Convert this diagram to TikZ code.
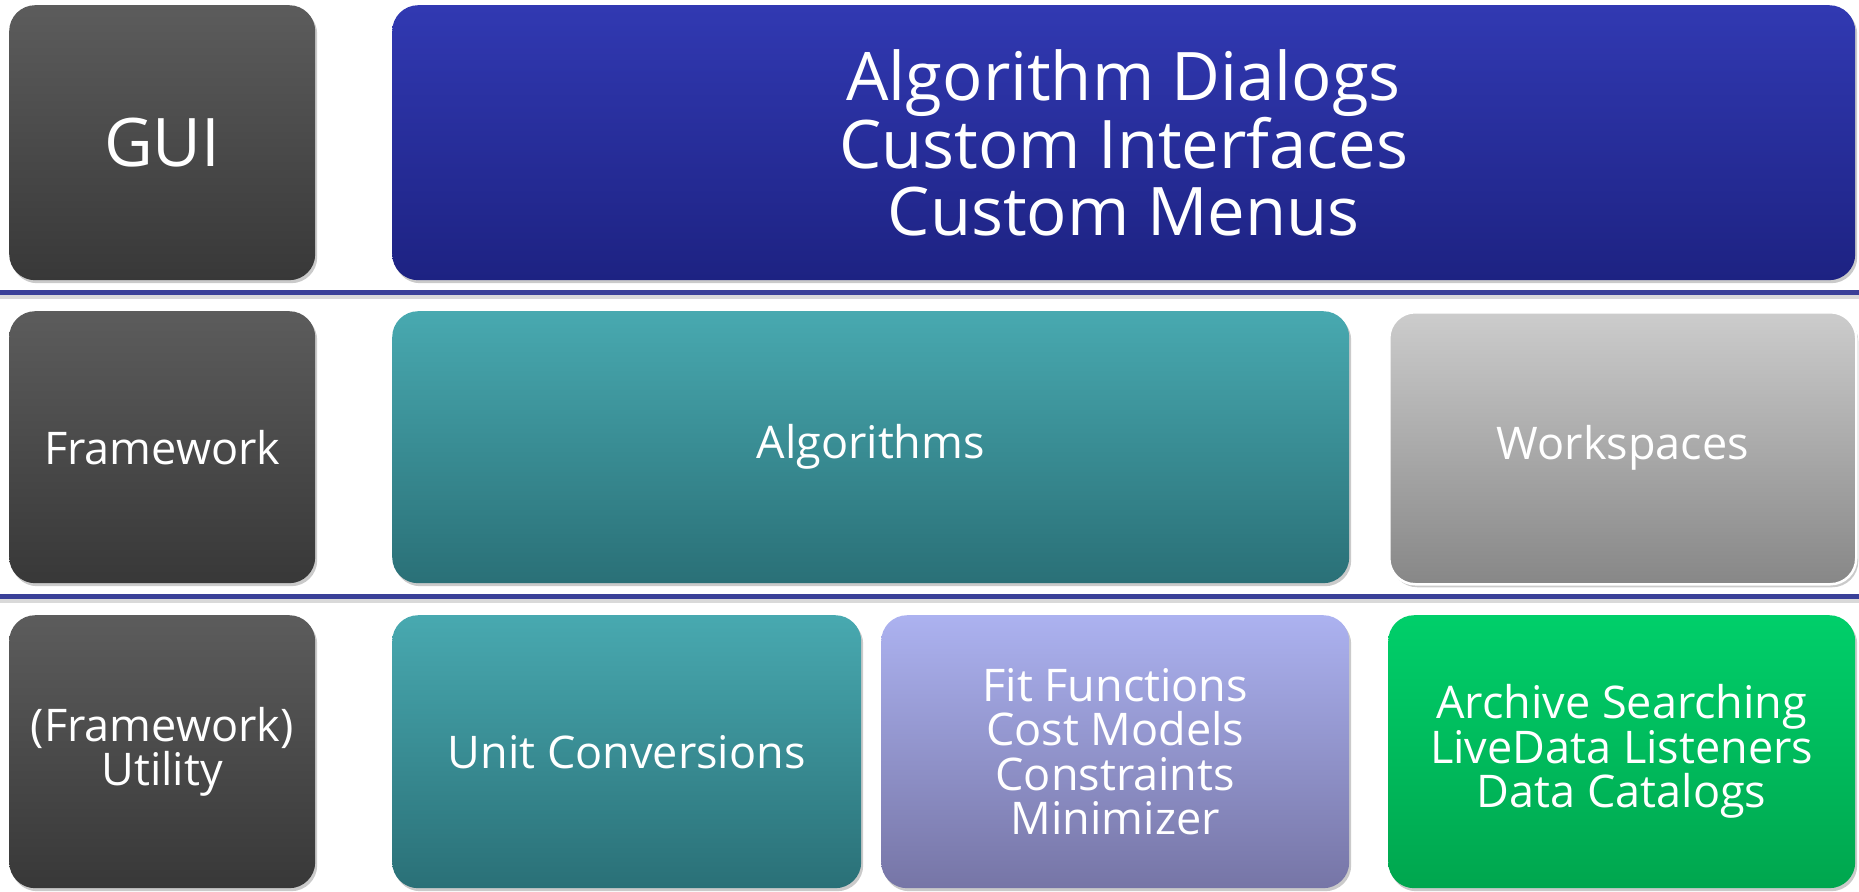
\documentclass[tikz,border=0pt]{standalone}
\usepackage{fontspec}
\setmainfont{Open Sans}
\usetikzlibrary{shadows}
\definecolor{gTop}{HTML}{5C5C5C}
\definecolor{gBot}{HTML}{383838}
\definecolor{bTop}{HTML}{3139B2}
\definecolor{bBot}{HTML}{1D2282}
\definecolor{tTop}{HTML}{48A9B0}
\definecolor{tBot}{HTML}{2A7077}
\definecolor{wTop}{HTML}{CCCCCC}
\definecolor{wBot}{HTML}{878787}
\definecolor{pTop}{HTML}{ACB2F0}
\definecolor{pBot}{HTML}{7675A6}
\definecolor{nTop}{HTML}{00CF6A}
\definecolor{nBot}{HTML}{00A64E}
\definecolor{sepBlue}{HTML}{3A4098}
\tikzset{
  layerbox/.style={rounded corners=26pt, anchor=north west, align=center,
    text=white, inner sep=0pt,
    drop shadow={shadow xshift=2pt, shadow yshift=-3pt, opacity=0.35, fill=black!60}},
  bigtext/.style={font=\fontsize{67}{67}\selectfont},
  smalltext/.style={font=\fontsize{45}{44.5}\selectfont},
  graybox/.style={layerbox, top color=gTop, bottom color=gBot},
  bluebox/.style={layerbox, top color=bTop, bottom color=bBot},
  tealbox/.style={layerbox, top color=tTop, bottom color=tBot},
  wsbox/.style={layerbox, top color=wTop, bottom color=wBot, draw=white, line width=2.5pt},
  purplebox/.style={layerbox, top color=pTop, bottom color=pBot},
  greenbox/.style={layerbox, top color=nTop, bottom color=nBot},
  sepline/.style={draw=sepBlue, line width=5pt},
  sepshadow/.style={draw=black!25, line width=4pt, opacity=0.6}
}
\begin{document}
\begin{tikzpicture}[x=1pt,y=-1pt]
\useasboundingbox (0,0) rectangle (1859,891);
% row 1
\node[graybox, bigtext, minimum width=306pt, minimum height=275pt] (gui) at (9,5) {GUI};
\node[bluebox, bigtext, minimum width=1463pt, minimum height=275pt] (dialogs) at (392,5) {Algorithm Dialogs\\Custom Interfaces\\Custom Menus};
% separators
\coordinate (s1l) at (0,292);
\coordinate (s1r) at (1859,292);
\coordinate (s1ls) at (0,297);
\coordinate (s1rs) at (1859,297);
\coordinate (s2l) at (0,596);
\coordinate (s2r) at (1859,596);
\coordinate (s2ls) at (0,601);
\coordinate (s2rs) at (1859,601);
\draw[sepshadow] (s1ls) -- (s1rs);
\draw[sepline] (s1l) -- (s1r);
\draw[sepshadow] (s2ls) -- (s2rs);
\draw[sepline] (s2l) -- (s2r);
% row 2
\node[graybox, smalltext, minimum width=306pt, minimum height=272pt] (fw) at (9,311) {Framework};
\node[tealbox, smalltext, minimum width=957pt, minimum height=272pt] (algs) at (392,311) {Algorithms};
\node[wsbox, smalltext, minimum width=467pt, minimum height=272pt] (ws) at (1388,311) {Workspaces};
% row 3
\node[graybox, smalltext, minimum width=306pt, minimum height=273pt] (util) at (9,615) {(Framework)\\Utility};
\node[tealbox, smalltext, minimum width=469pt, minimum height=273pt] (unit) at (392,615) {Unit Conversions};
\node[purplebox, smalltext, minimum width=468pt, minimum height=273pt] (fit) at (881,615) {Fit Functions\\Cost Models\\Constraints\\Minimizer};
\node[greenbox, smalltext, minimum width=467pt, minimum height=273pt] (arch) at (1388,615) {Archive Searching\\LiveData Listeners\\Data Catalogs};
\end{tikzpicture}
\end{document}
